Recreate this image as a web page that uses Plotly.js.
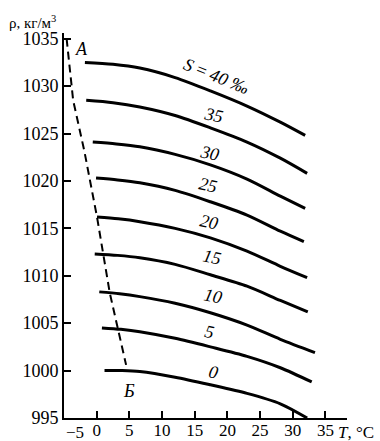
<!DOCTYPE html>
<html>
<head>
<meta charset="utf-8">
<script src="https://cdn.plot.ly/plotly-3.0.1.min.js"></script>
<style>
html,body{margin:0;padding:0;background:#fff;}
#chart{width:380px;height:441px;}
</style>
</head>
<body>
<div id="chart"></div>
<script>
// Salinity values (‰) of each curve
var salinity = [40, 35, 30, 25, 20, 15, 10, 5, 0];
// Temperature points (°C) for each curve
var tS40 = [-1.8, 2.5, 6.6, 12, 17.4, 23, 28.1, 31.9];
var tS35 = [-1.6, 2.5, 6.6, 12, 17.4, 23, 28.1, 32.2];
var tS30 = [-0.6, 3.0, 6.6, 12, 17.4, 23, 28.1, 31.9];
var tS25 = [-0.1, 3.2, 6.6, 12, 17.4, 23, 28.1, 31.7];
var tS20 = [0.05, 3.3, 6.6, 12, 17.4, 23, 28.1, 32.2];
var tS15 = [-0.3, 3.2, 6.6, 12, 17.4, 23, 28.1, 32.3];
var tS10 = [0.4, 3.5, 6.6, 12, 17.4, 23, 28.1, 33.4];
var tS5  = [0.8, 3.7, 6.6, 12, 17.4, 23, 28.1, 32.9];
var tS0  = [1.2, 3.9, 6.6, 12, 17.4, 23, 28.1, 32.2];
// Density values (kg/m3)
var rS40 = [1032.5, 1032.3, 1031.9, 1030.9, 1029.5, 1027.9, 1026.2, 1024.8];
var rS35 = [1028.5, 1028.25, 1027.8, 1026.9, 1025.6, 1024.1, 1022.4, 1020.8];
var rS30 = [1024.1, 1023.9, 1023.6, 1022.8, 1021.7, 1020.2, 1018.4, 1017.1];
var rS25 = [1020.3, 1020.1, 1019.8, 1019.0, 1017.8, 1016.4, 1014.7, 1013.6];
var rS20 = [1016.2, 1016.0, 1015.7, 1015.0, 1014.0, 1012.6, 1011.0, 1009.8];
var rS15 = [1012.3, 1012.15, 1011.9, 1011.2, 1010.1, 1008.9, 1007.4, 1006.2];
var rS10 = [1008.3, 1008.1, 1007.8, 1007.1, 1006.1, 1004.8, 1003.3, 1001.9];
var rS5  = [1004.5, 1004.35, 1004.1, 1003.4, 1002.5, 1001.5, 1000.3, 998.8];
var rS0  = [1000.0, 1000.0, 999.9, 999.3, 998.5, 997.6, 996.5, 995.0];
// Line of maximum density A–Б
var tMax = [-4.6, -3.6, -1.9, 0.05, 2.0, 4.5];
var rMax = [1035.0, 1028.5, 1023.2, 1016.2, 1008.2, 1000.6];
// Tick labels
var xTicks = [0, 5, 10, 15, 20, 25, 30, 35];
var yTicks = [995, 1000, 1005, 1010, 1015, 1020, 1025, 1030, 1035];

var tAll = [tS40, tS35, tS30, tS25, tS20, tS15, tS10, tS5, tS0];
var rAll = [rS40, rS35, rS30, rS25, rS20, rS15, rS10, rS5, rS0];

var FONT = 'Liberation Serif, Times New Roman, serif';
var traces = [];
for (var i = 0; i < salinity.length; i++) {
  traces.push({
    x: tAll[i], y: rAll[i], mode: 'lines', type: 'scatter',
    line: {color: '#000', width: 3, shape: 'spline', smoothing: 0.8},
    hoverinfo: 'skip', showlegend: false, cliponaxis: false
  });
}
traces.push({
  x: tMax, y: rMax, mode: 'lines', type: 'scatter',
  line: {color: '#000', width: 2, dash: '8px,5px'},
  hoverinfo: 'skip', showlegend: false, cliponaxis: false
});

// label positions (data coords) along curves
var labT = [18.3, 17.8, 17.2, 17.0, 17.2, 17.6, 17.8, 17.3, 17.8];
var labR = [1031.06, 1026.95, 1022.9, 1019.6, 1015.7, 1012.0, 1007.9, 1004.1, 999.85];
var ann = [];
for (var j = 0; j < salinity.length; j++) {
  ann.push({
    x: labT[j], y: labR[j], xref: 'x', yref: 'y', showarrow: false,
    text: j === 0 ? '<i>S</i> = <i>' + salinity[j] + ' ‰</i>' : '<i>' + salinity[j] + '</i>',
    textangle: j === 0 ? 22 : 12,
    font: {family: FONT, size: 18, color: '#000'}
  });
}
ann.push({x: -2.3, y: 1033.9, xref: 'x', yref: 'y', showarrow: false, text: '<i>A</i>',
  font: {family: FONT, size: 18, color: '#000'}});
ann.push({x: 5.0, y: 997.8, xref: 'x', yref: 'y', showarrow: false, text: '<i>Б</i>',
  font: {family: FONT, size: 18, color: '#000'}});
ann.push({x: -5, y: 0, xref: 'x', yref: 'paper', xanchor: 'left', yanchor: 'middle', yshift: -14, xshift: 0,
  showarrow: false, text: '−5', font: {family: FONT, size: 17, color: '#000'}});
ann.push({x: 1, y: 0, xref: 'paper', yref: 'paper', xanchor: 'left', yanchor: 'middle', yshift: -14, xshift: -11,
  showarrow: false, text: '<i>T</i>, °C', font: {family: FONT, size: 17, color: '#000'}});
ann.push({x: 0, y: 1, xref: 'paper', yref: 'paper', xanchor: 'left', yanchor: 'middle', xshift: -57, yshift: 11,
  showarrow: false, text: 'ρ, кг/м<sup>3</sup>', font: {family: FONT, size: 15, color: '#000'}});

var layout = {
  width: 380, height: 441,
  margin: {l: 64, r: 33, t: 33, b: 23},
  paper_bgcolor: '#fff', plot_bgcolor: '#fff',
  showlegend: false,
  xaxis: {
    range: [-5, 38.3], tickvals: xTicks, ticktext: xTicks.map(String),
    ticks: 'inside', ticklen: 7, tickwidth: 2, tickcolor: '#000',
    ticklabelstandoff: -4,
    showline: true, linecolor: '#000', linewidth: 2, showgrid: false, zeroline: false,
    tickfont: {family: FONT, size: 17, color: '#000'}
  },
  yaxis: {
    range: [995, 1035.6], tickvals: yTicks, ticktext: yTicks.map(String),
    ticks: 'inside', ticklen: 7, tickwidth: 2, tickcolor: '#000',
    showline: true, linecolor: '#000', linewidth: 2, showgrid: false, zeroline: false,
    tickfont: {family: FONT, size: 18, color: '#000'}
  },
  annotations: ann
};
Plotly.newPlot('chart', traces, layout, {staticPlot: true, displayModeBar: false});
</script>
</body>
</html>
